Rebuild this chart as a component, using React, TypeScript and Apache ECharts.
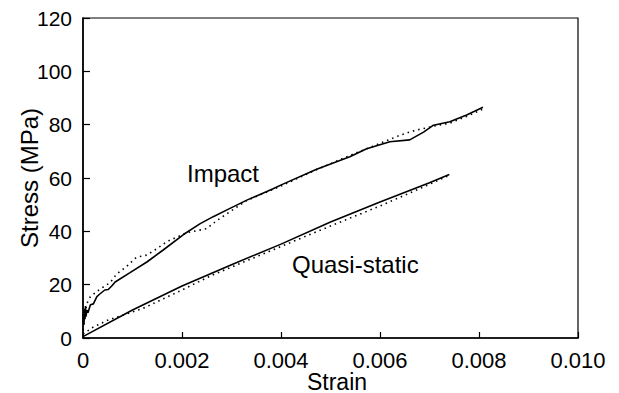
import React, { useEffect, useRef } from "react";
import * as echarts from "echarts";

const xTicks = [0, 0.002, 0.004, 0.006, 0.008, 0.01];
const yTicks = [0, 20, 40, 60, 80, 100, 120];

const impactMeasured: [number, number][] = [
  [0, 6], [0.00001, 9], [0.00002, 5], [0.00003, 11], [0.00004, 7], [0.00005, 12],
  [0.00006, 8], [0.00008, 10.5], [0.0001, 9.5], [0.00015, 12.5], [0.00021, 12.8],
  [0.00028, 15.5], [0.00034, 16.5], [0.00044, 18], [0.00051, 18.2], [0.00058, 19.5],
  [0.00065, 21], [0.00095, 24.5], [0.00129, 28.5], [0.00162, 33], [0.00203, 38.8],
  [0.00236, 42.8], [0.00263, 45.5], [0.00297, 48.6], [0.00331, 51.7], [0.00384, 56],
  [0.00405, 57.8], [0.00472, 63.3], [0.00539, 68], [0.00573, 71], [0.0062, 73.6],
  [0.0066, 74.3], [0.00688, 77.2], [0.00708, 79.8], [0.00741, 81.1], [0.00775, 83.6],
  [0.00808, 86.5],
];

const impactModel: [number, number][] = [
  [0, 3], [0.00003, 8], [0.00008, 13], [0.00015, 15.5], [0.00034, 18.3], [0.00055, 20.8],
  [0.00068, 24], [0.00088, 26.8], [0.00108, 30.3], [0.00129, 31.1], [0.0015, 33.6],
  [0.0017, 36.2], [0.0021, 39.5], [0.0025, 41], [0.0027, 44], [0.0033, 51.5],
  [0.004, 57], [0.0047, 63], [0.0054, 68.5], [0.006, 73], [0.0064, 76], [0.0067, 77.8],
  [0.0071, 79.5], [0.0074, 80.5], [0.0078, 83.5], [0.0081, 86],
];

const quasiMeasured: [number, number][] = [
  [0, 0.5], [0.001, 10.5], [0.002, 19.5], [0.003, 27.5], [0.004, 35.2],
  [0.005, 43.5], [0.006, 51], [0.007, 58.2], [0.0074, 61.3],
];

const quasiModel: [number, number][] = [
  [0, 1.5], [0.0002, 4], [0.0005, 6.7], [0.0009, 9.2], [0.0012, 11], [0.0016, 14.5],
  [0.002, 18], [0.0026, 23.5], [0.0037, 32], [0.0044, 37.4], [0.005, 42],
  [0.006, 49.5], [0.0068, 56], [0.0074, 61],
];

const FONT = "Liberation Sans";

export default function App() {
  const ref = useRef<HTMLDivElement>(null);
  useEffect(() => {
    if (!ref.current) return;
    const chart = echarts.init(ref.current, null, { renderer: "svg" });
    const solid = (data: [number, number][]) => ({
      type: "line",
      data,
      showSymbol: false,
      symbol: "none",
      lineStyle: { color: "#000", width: 1.6 },
    });
    const dotted = (data: [number, number][]) => ({
      type: "line",
      data,
      showSymbol: false,
      symbol: "none",
      lineStyle: { color: "#000", width: 1.6, type: [1.5, 4] },
    });
    chart.setOption({
      animation: false,
      backgroundColor: "#fff",
      grid: {
        left: 83, right: 41, top: 18, bottom: 55,
        containLabel: false,
        outerBoundsMode: "none",
        show: true, borderColor: "#000", borderWidth: 1.2,
      },
      xAxis: {
        type: "value",
        min: xTicks[0],
        max: xTicks[xTicks.length - 1],
        interval: 0.002,
        name: "Strain",
        nameLocation: "middle",
        nameGap: 32,
        nameMoveOverlap: false,
        nameTextStyle: { fontFamily: FONT, fontSize: 23, color: "#000", padding: [0, 0, 0, 13], lineHeight: 23 },
        axisLine: { show: true, lineStyle: { color: "#000", width: 1.6 } },
        axisTick: { show: true, inside: true, length: 6, lineStyle: { color: "#000", width: 1.2 } },
        splitLine: { show: false },
        axisLabel: {
          fontFamily: FONT, fontSize: 22, color: "#000", margin: 11,
          formatter: (v: number) => (v === 0 ? "0" : v.toFixed(3)),
        },
      },
      yAxis: {
        type: "value",
        min: yTicks[0],
        max: yTicks[yTicks.length - 1],
        interval: 20,
        name: "Stress (MPa)",
        nameLocation: "middle",
        nameGap: 42,
        nameMoveOverlap: false,
        nameTextStyle: { fontFamily: FONT, fontSize: 24, color: "#000", lineHeight: 24 },
        axisLine: { show: true, lineStyle: { color: "#000", width: 1.6 } },
        axisTick: { show: true, inside: true, length: 7, lineStyle: { color: "#000", width: 1.2 } },
        splitLine: { show: false },
        axisLabel: { fontFamily: FONT, fontSize: 21, color: "#000", margin: 11 },
      },
      graphic: [
        {
          type: "text", left: 187, top: 161,
          style: { text: "Impact", fontFamily: FONT, fontSize: 24, fill: "#000" },
        },
        {
          type: "text", left: 292, top: 252,
          style: { text: "Quasi-static", fontFamily: FONT, fontSize: 24, fill: "#000" },
        },
      ],
      series: [
        solid(impactMeasured),
        dotted(impactModel),
        solid(quasiMeasured),
        dotted(quasiModel),
      ],
    });
    return () => chart.dispose();
  }, []);
  return <div ref={ref} style={{ width: 619, height: 393, position: "absolute", left: 0, top: 0 }} />;
}
